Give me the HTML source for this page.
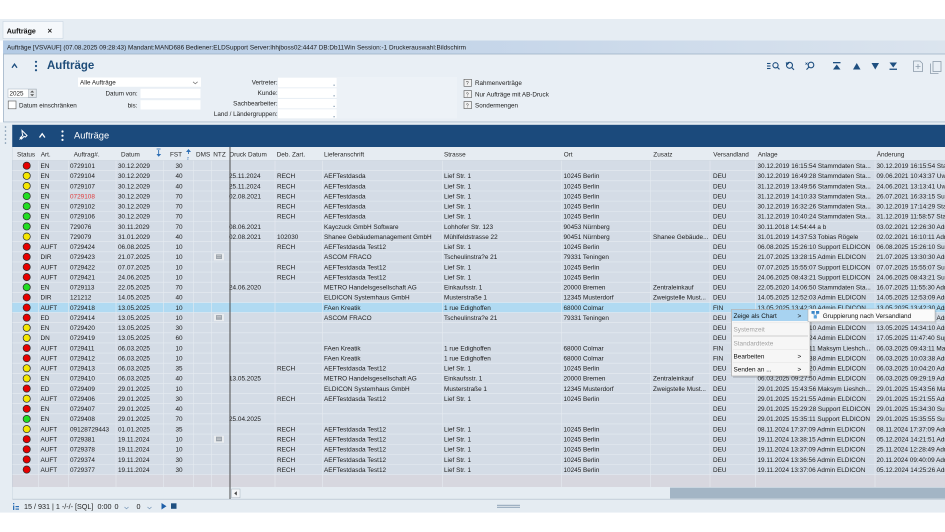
<!DOCTYPE html>
<html><head><meta charset="utf-8">
<style>
body{margin:0;background:#fff}
svg{display:block}
text{font-family:"Liberation Sans",Arial,sans-serif}
.rows text{font-size:6.4px;fill:#1b1b1b}
.hd text{font-size:6.4px;fill:#2a2a2a}
.f{font-size:6.3px;fill:#222}
.m{text-anchor:middle}
.e{text-anchor:end}
.cr{fill:#e60000;stroke:#2a2a2a;stroke-width:.7}
.cy{fill:#f4e600;stroke:#2a2a2a;stroke-width:.7}
.cg{fill:#22dd22;stroke:#2a2a2a;stroke-width:.7}
.ic{fill:#1e4f80}
.mn text{font-size:6.4px;fill:#111}
.sb{font-size:7.2px;fill:#222}
</style></head><body>
<svg width="945" height="532" viewBox="0 0 945 532" xmlns="http://www.w3.org/2000/svg">
<defs>
<linearGradient id="ib" x1="0" x2="1" y1="0" y2="0"><stop offset="0" stop-color="#b4cbe5"/><stop offset="0.6" stop-color="#c9d8ea"/><stop offset="1" stop-color="#dbe4ee"/></linearGradient>
<g id="ntz"><rect x="214" y="1.6" width="10" height="7" fill="#e9ecef"/><rect x="216" y="2.6" width="6" height="4.6" fill="#9aa2aa"/><line x1="216.8" y1="4" x2="221.2" y2="4" stroke="#e0e0e0" stroke-width=".5"/><line x1="216.8" y1="5.4" x2="221.2" y2="5.4" stroke="#e0e0e0" stroke-width=".5"/></g>
</defs>
<rect width="945" height="532" fill="#fff"/>
<!-- tab bar -->
<rect x="0" y="19" width="945" height="21.5" fill="#e6edf3"/>
<rect x="3" y="21.5" width="60" height="17" fill="#f5f8fb" stroke="#c9d5e1" stroke-width=".6"/>
<text x="6.7" y="33.3" style="font-size:7.1px;font-weight:bold;fill:#111">Aufträge</text>
<text x="47.5" y="33.5" style="font-size:8px;font-weight:bold;fill:#222">×</text>
<!-- info bar -->
<rect x="3" y="40.5" width="942" height="13.5" fill="url(#ib)"/>
<text x="7" y="49.6" class="f" textLength="459" lengthAdjust="spacingAndGlyphs" style="fill:#1a1a1a">Aufträge [VSVAUF] (07.08.2025 09:28:43) Mandant:MAND686 Bediener:ELDSupport Server:lhhjboss02:4447 DB:Db11Win Session:-1 Druckerauswahl:Bildschirm</text>
<!-- panel -->
<rect x="3.5" y="54" width="942" height="68" fill="#e9eff5" stroke="#9fb3c7" stroke-width=".8"/>
<rect x="0" y="122.4" width="945" height="2.4" fill="#e6edf3"/>
<polyline points="12,67.8 14.5,64.2 17,67.8" fill="none" stroke="#1e4f80" stroke-width="1.3"/>
<circle cx="36" cy="61.8" r="1.1" class="ic"/><circle cx="36" cy="66" r="1.1" class="ic"/><circle cx="36" cy="70.2" r="1.1" class="ic"/>
<text x="47" y="69.2" style="font-size:11.5px;font-weight:bold;fill:#1f4d7a">Aufträge</text>
<!-- toolbar icons -->
<g stroke="#1e4f80" fill="none" stroke-width="1.1">
<line x1="767" y1="63.5" x2="770.5" y2="63.5"/><line x1="767" y1="66" x2="770.5" y2="66"/><line x1="767" y1="68.5" x2="770.5" y2="68.5"/>
<circle cx="775.5" cy="65.3" r="2.6"/><line x1="777.4" y1="67.3" x2="779.5" y2="69.4"/>
<circle cx="789.5" cy="65.3" r="3"/><path d="M786 62.5 l1.5 1.8 l1.6 -1.8"/><line x1="791.8" y1="67.6" x2="794" y2="69.8"/>
<circle cx="811" cy="65" r="2.8"/><line x1="809" y1="67" x2="806.5" y2="69.6"/><path d="M805.5 62.6 l2 2 M807.5 62.6 l-2 2" stroke-width=".7"/>
</g>
<rect x="833" y="62" width="7.5" height="1.3" class="ic"/><polygon points="833,69.5 840.5,69.5 836.75,64.5" class="ic"/>
<polygon points="853,69.5 860.5,69.5 856.75,63" class="ic"/>
<polygon points="871.5,63 879,63 875.25,69.5" class="ic"/>
<polygon points="889.5,62.5 897,62.5 893.25,67.5" class="ic"/><rect x="889.5" y="68.6" width="7.5" height="1.3" class="ic"/>
<g fill="none" stroke="#8d9cab" stroke-width=".8">
<path d="M913.5 61 h6.5 l2.5 2.5 v8 h-9 z"/><path d="M918 64 v5 M915.5 66.5 h5"/>
<rect x="933" y="61.5" width="8" height="10"/><path d="M930.5 63.5 v10 h8"/>
</g>
<!-- form -->
<rect x="78" y="77.5" width="123" height="9.3" fill="#fff"/>
<text x="80" y="84.6" class="f">Alle Aufträge</text>
<polyline points="193,81.8 195.3,83.8 197.6,81.8" fill="none" stroke="#777" stroke-width=".7"/>
<rect x="8" y="89" width="28.5" height="8.6" fill="#fff" stroke="#a8b4c0" stroke-width=".5"/>
<text x="9.5" y="95.7" class="f">2025</text>
<rect x="28.3" y="89.3" width="7.8" height="8" fill="#e4e8ec" stroke="#a0a8b0" stroke-width=".4"/>
<polygon points="30.2,92.5 34.2,92.5 32.2,90.5" fill="#555"/><polygon points="30.2,94.3 34.2,94.3 32.2,96.3" fill="#555"/>
<text x="137.7" y="95.6" class="f e">Datum von:</text>
<rect x="140.5" y="88.8" width="60" height="9.3" fill="#fff"/>
<rect x="8.2" y="101" width="7.8" height="7.8" fill="#fff" stroke="#555" stroke-width=".6"/>
<text x="19" y="107.3" class="f">Datum einschränken</text>
<text x="137.4" y="107.3" class="f e">bis:</text>
<rect x="140.5" y="100.2" width="60" height="9.3" fill="#fff"/>
<rect x="337" y="77" width="120" height="41.5" fill="#edf2f7"/>
<text x="277.6" y="84.4" class="f e">Vertreter:</text>
<text x="277.6" y="95" class="f e">Kunde:</text>
<text x="277.6" y="105.6" class="f e">Sachbearbeiter:</text>
<text x="277.6" y="116.1" class="f e">Land / Ländergruppen:</text>
<g fill="#fff"><rect x="278" y="77.7" width="58.7" height="9.6"/><rect x="278" y="88.3" width="58.7" height="9.6"/><rect x="278" y="99" width="58.7" height="9.3"/><rect x="278" y="109.3" width="58.7" height="9"/></g>
<g fill="#7f98b0"><rect x="333.5" y="84.6" width="1.2" height="1.2"/><rect x="333.5" y="95.2" width="1.2" height="1.2"/><rect x="333.5" y="105.8" width="1.2" height="1.2"/><rect x="333.5" y="116.1" width="1.2" height="1.2"/></g>
<g fill="#f2f2f2" stroke="#555" stroke-width=".6">
<rect x="464" y="79.3" width="7.5" height="7"/><rect x="464" y="90.6" width="7.5" height="7"/><rect x="464" y="101.6" width="7.5" height="7"/></g>
<g style="font-size:5px;fill:#333"><text x="465.9" y="85">?</text><text x="465.9" y="96.3">?</text><text x="465.9" y="107.3">?</text></g>
<text x="475" y="85" class="f">Rahmenverträge</text>
<text x="475" y="96.3" class="f">Nur Aufträge mit AB-Druck</text>
<text x="475" y="107.3" class="f">Sondermengen</text>
<!-- left strip -->
<rect x="0" y="124.8" width="12.3" height="375" fill="#e6edf3"/>
<line x1="12.3" y1="124.8" x2="12.3" y2="499" stroke="#b4c3d2" stroke-width=".6"/>
<g fill="#7890a8"><circle cx="5.5" cy="127" r=".8"/><circle cx="5.5" cy="131" r=".8"/><circle cx="5.5" cy="135" r=".8"/><circle cx="5.5" cy="139" r=".8"/><circle cx="5.5" cy="143" r=".8"/></g>
<!-- dark bar -->
<rect x="12.3" y="124.8" width="932.7" height="22.2" fill="#1b4a7c"/>
<g stroke="#fff" fill="none" stroke-width="1">
<path d="M22 130.5 l5 5 l-1.5 1.5 l-1.5 -0.5 l-2.5 2.5 l-1.2 -1.2 l2.5 -2.5 l-0.5 -1.5 z"/>
<line x1="19.5" y1="139.5" x2="22" y2="137"/>
<polyline points="39.5,137.5 42.2,133.7 44.9,137.5" stroke-width="1.3"/>
</g>
<circle cx="62.5" cy="131.5" r="1.1" fill="#fff"/><circle cx="62.5" cy="135.7" r="1.1" fill="#fff"/><circle cx="62.5" cy="139.9" r="1.1" fill="#fff"/>
<text x="74" y="138.5" style="font-size:9.3px;fill:#fff">Aufträge</text>
<!-- header -->
<rect x="12.3" y="147" width="932.7" height="13.6" fill="#e6ecf2"/>
<line x1="12.3" y1="160.4" x2="945" y2="160.4" stroke="#c6cfd9" stroke-width=".6"/>
<g class="hd">
<text x="17" y="156.6">Status</text><text x="40.7" y="156.6">Art.</text><text x="73.7" y="156.6">Auftrag#.</text><text x="121" y="156.6">Datum</text>
<text x="170" y="156.6">FST</text><text x="196" y="156.6">DMS</text><text x="213.3" y="156.6">NTZ</text><text x="229.5" y="156.6">Druck Datum</text><text x="276.7" y="156.6">Deb. Zart.</text>
<text x="324" y="156.6">Lieferanschrift</text><text x="444" y="156.6">Strasse</text><text x="563.7" y="156.6">Ort</text><text x="653.3" y="156.6">Zusatz</text><text x="713.3" y="156.6">Versandland</text><text x="757.7" y="156.6">Anlage</text><text x="876.7" y="156.6">Änderung</text>
</g>
<g fill="#2d6fb5"><rect x="156.6" y="148.6" width="4" height=".8"/><rect x="158.2" y="150" width=".9" height="4.5"/><polygon points="156.5,154 161.2,154 158.65,156.8"/>
<polygon points="186,152 191,152 188.5,149"/><rect x="188" y="151.5" width=".9" height="2.5"/></g>
<text x="186.8" y="159.5" style="font-size:4px;fill:#2d6fb5">2</text>
<!-- rows background -->
<rect x="12.3" y="160.6" width="932.7" height="314" fill="#d4dce6"/>
<rect x="12.3" y="302.42" width="932.7" height="10.13" fill="#b0daf2"/>
<rect x="12.3" y="474.63" width="932.7" height="12.4" fill="#d7d7df"/>
<g stroke="#e6ebf1" stroke-width=".6">
<line x1="12.3" y1="170.73" x2="945" y2="170.73"/><line x1="12.3" y1="180.86" x2="945" y2="180.86"/><line x1="12.3" y1="190.99" x2="945" y2="190.99"/><line x1="12.3" y1="201.12" x2="945" y2="201.12"/><line x1="12.3" y1="211.25" x2="945" y2="211.25"/><line x1="12.3" y1="221.38" x2="945" y2="221.38"/><line x1="12.3" y1="231.51" x2="945" y2="231.51"/><line x1="12.3" y1="241.64" x2="945" y2="241.64"/><line x1="12.3" y1="251.77" x2="945" y2="251.77"/><line x1="12.3" y1="261.9" x2="945" y2="261.9"/><line x1="12.3" y1="272.03" x2="945" y2="272.03"/><line x1="12.3" y1="282.16" x2="945" y2="282.16"/><line x1="12.3" y1="292.29" x2="945" y2="292.29"/><line x1="12.3" y1="302.42" x2="945" y2="302.42"/><line x1="12.3" y1="312.55" x2="945" y2="312.55"/><line x1="12.3" y1="322.68" x2="945" y2="322.68"/><line x1="12.3" y1="332.81" x2="945" y2="332.81"/><line x1="12.3" y1="342.94" x2="945" y2="342.94"/><line x1="12.3" y1="353.07" x2="945" y2="353.07"/><line x1="12.3" y1="363.2" x2="945" y2="363.2"/><line x1="12.3" y1="373.33" x2="945" y2="373.33"/><line x1="12.3" y1="383.46" x2="945" y2="383.46"/><line x1="12.3" y1="393.59" x2="945" y2="393.59"/><line x1="12.3" y1="403.72" x2="945" y2="403.72"/><line x1="12.3" y1="413.85" x2="945" y2="413.85"/><line x1="12.3" y1="423.98" x2="945" y2="423.98"/><line x1="12.3" y1="434.11" x2="945" y2="434.11"/><line x1="12.3" y1="444.24" x2="945" y2="444.24"/><line x1="12.3" y1="454.37" x2="945" y2="454.37"/><line x1="12.3" y1="464.5" x2="945" y2="464.5"/><line x1="12.3" y1="474.63" x2="945" y2="474.63"/>
<line x1="38.3" y1="160.6" x2="38.3" y2="487"/><line x1="68.3" y1="160.6" x2="68.3" y2="487"/><line x1="116" y1="160.6" x2="116" y2="487"/><line x1="163.3" y1="160.6" x2="163.3" y2="487"/><line x1="193.3" y1="160.6" x2="193.3" y2="487"/><line x1="211.7" y1="160.6" x2="211.7" y2="487"/><line x1="275" y1="160.6" x2="275" y2="487"/><line x1="322.5" y1="160.6" x2="322.5" y2="487"/><line x1="442.3" y1="160.6" x2="442.3" y2="487"/><line x1="561.7" y1="160.6" x2="561.7" y2="487"/><line x1="650.7" y1="160.6" x2="650.7" y2="487"/><line x1="710" y1="160.6" x2="710" y2="487"/><line x1="755.7" y1="160.6" x2="755.7" y2="487"/><line x1="875" y1="160.6" x2="875" y2="487"/>
</g>
<!-- rows -->
<g class="rows">
<g transform="translate(0,160.6)"><circle class="cr" cx="26.7" cy="5.1" r="3.6"/><text x="40.5" y="7.4">EN</text><text x="70" y="7.4">0729101</text><text x="118" y="7.4">30.12.2029</text><text x="179" y="7.4" class="m">30</text><text x="757.5" y="7.4">30.12.2019 16:15:54 Stammdaten Sta...</text><text x="876.5" y="7.4">30.12.2019 16:15:54 Stammdaten</text></g>
<g transform="translate(0,170.73)"><circle class="cy" cx="26.7" cy="5.1" r="3.6"/><text x="40.5" y="7.4">EN</text><text x="70" y="7.4">0729104</text><text x="118" y="7.4">30.12.2029</text><text x="179" y="7.4" class="m">40</text><text x="229" y="7.4">25.11.2024</text><text x="277" y="7.4">RECH</text><text x="324" y="7.4">AEFTestdasda</text><text x="444" y="7.4">Lief Str. 1</text><text x="563.5" y="7.4">10245 Berlin</text><text x="713" y="7.4">DEU</text><text x="757.5" y="7.4">30.12.2019 16:49:28 Stammdaten Sta...</text><text x="876.5" y="7.4">09.06.2021 10:43:37 Uwe</text></g>
<g transform="translate(0,180.86)"><circle class="cy" cx="26.7" cy="5.1" r="3.6"/><text x="40.5" y="7.4">EN</text><text x="70" y="7.4">0729107</text><text x="118" y="7.4">30.12.2029</text><text x="179" y="7.4" class="m">40</text><text x="229" y="7.4">25.11.2024</text><text x="277" y="7.4">RECH</text><text x="324" y="7.4">AEFTestdasda</text><text x="444" y="7.4">Lief Str. 1</text><text x="563.5" y="7.4">10245 Berlin</text><text x="713" y="7.4">DEU</text><text x="757.5" y="7.4">31.12.2019 13:49:56 Stammdaten Sta...</text><text x="876.5" y="7.4">24.06.2021 13:13:41 Uwe</text></g>
<g transform="translate(0,190.99)"><circle class="cg" cx="26.7" cy="5.1" r="3.6"/><text x="40.5" y="7.4">EN</text><text x="70" y="7.4" style="fill:#e03a3a">0729108</text><text x="118" y="7.4">30.12.2029</text><text x="179" y="7.4" class="m">70</text><text x="229" y="7.4">02.08.2021</text><text x="277" y="7.4">RECH</text><text x="324" y="7.4">AEFTestdasda</text><text x="444" y="7.4">Lief Str. 1</text><text x="563.5" y="7.4">10245 Berlin</text><text x="713" y="7.4">DEU</text><text x="757.5" y="7.4">31.12.2019 14:10:33 Stammdaten Sta...</text><text x="876.5" y="7.4">26.07.2021 16:33:15 Support</text></g>
<g transform="translate(0,201.12)"><circle class="cg" cx="26.7" cy="5.1" r="3.6"/><text x="40.5" y="7.4">EN</text><text x="70" y="7.4">0729102</text><text x="118" y="7.4">30.12.2029</text><text x="179" y="7.4" class="m">70</text><text x="277" y="7.4">RECH</text><text x="324" y="7.4">AEFTestdasda</text><text x="444" y="7.4">Lief Str. 1</text><text x="563.5" y="7.4">10245 Berlin</text><text x="713" y="7.4">DEU</text><text x="757.5" y="7.4">30.12.2019 16:32:26 Stammdaten Sta...</text><text x="876.5" y="7.4">30.12.2019 17:14:29 Stammdaten</text></g>
<g transform="translate(0,211.25)"><circle class="cg" cx="26.7" cy="5.1" r="3.6"/><text x="40.5" y="7.4">EN</text><text x="70" y="7.4">0729106</text><text x="118" y="7.4">30.12.2029</text><text x="179" y="7.4" class="m">70</text><text x="277" y="7.4">RECH</text><text x="324" y="7.4">AEFTestdasda</text><text x="444" y="7.4">Lief Str. 1</text><text x="563.5" y="7.4">10245 Berlin</text><text x="713" y="7.4">DEU</text><text x="757.5" y="7.4">31.12.2019 10:40:24 Stammdaten Sta...</text><text x="876.5" y="7.4">31.12.2019 11:58:57 Stammdaten</text></g>
<g transform="translate(0,221.38)"><circle class="cg" cx="26.7" cy="5.1" r="3.6"/><text x="40.5" y="7.4">EN</text><text x="70" y="7.4">729076</text><text x="118" y="7.4">30.11.2029</text><text x="179" y="7.4" class="m">70</text><text x="229" y="7.4">08.06.2021</text><text x="324" y="7.4">Kayczuck GmbH Software</text><text x="444" y="7.4">Lohhofer Str. 123</text><text x="563.5" y="7.4">90453 Nürnberg</text><text x="713" y="7.4">DEU</text><text x="757.5" y="7.4">30.11.2018 14:54:44 a b</text><text x="876.5" y="7.4">03.02.2021 12:26:30 Admin</text></g>
<g transform="translate(0,231.51)"><circle class="cy" cx="26.7" cy="5.1" r="3.6"/><text x="40.5" y="7.4">EN</text><text x="70" y="7.4">729079</text><text x="118" y="7.4">31.01.2029</text><text x="179" y="7.4" class="m">40</text><text x="229" y="7.4">02.08.2021</text><text x="277" y="7.4">102030</text><text x="324" y="7.4">Shanee Gebäudemanagement GmbH</text><text x="444" y="7.4">Mühlfeldstrasse 22</text><text x="563.5" y="7.4">90451 Nürnberg</text><text x="653" y="7.4">Shanee Gebäude...</text><text x="713" y="7.4">DEU</text><text x="757.5" y="7.4">31.01.2019 14:37:53 Tobias Rögele</text><text x="876.5" y="7.4">02.02.2021 16:10:11 Admin</text></g>
<g transform="translate(0,241.64)"><circle class="cr" cx="26.7" cy="5.1" r="3.6"/><text x="40.5" y="7.4">AUFT</text><text x="70" y="7.4">0729424</text><text x="118" y="7.4">06.08.2025</text><text x="179" y="7.4" class="m">10</text><text x="277" y="7.4">RECH</text><text x="324" y="7.4">AEFTestdasda Test12</text><text x="444" y="7.4">Lief Str. 1</text><text x="563.5" y="7.4">10245 Berlin</text><text x="713" y="7.4">DEU</text><text x="757.5" y="7.4">06.08.2025 15:26:10 Support ELDICON</text><text x="876.5" y="7.4">06.08.2025 15:26:10 Support</text></g>
<g transform="translate(0,251.77)"><circle class="cr" cx="26.7" cy="5.1" r="3.6"/><text x="40.5" y="7.4">DIR</text><text x="70" y="7.4">0729423</text><text x="118" y="7.4">21.07.2025</text><text x="179" y="7.4" class="m">10</text><use href="#ntz"/><text x="324" y="7.4">ASCOM FRACO</text><text x="444" y="7.4">Tscheulinstra?e 21</text><text x="563.5" y="7.4">79331 Teningen</text><text x="713" y="7.4">DEU</text><text x="757.5" y="7.4">21.07.2025 13:28:15 Admin ELDICON</text><text x="876.5" y="7.4">21.07.2025 13:30:30 Admin</text></g>
<g transform="translate(0,261.9)"><circle class="cr" cx="26.7" cy="5.1" r="3.6"/><text x="40.5" y="7.4">AUFT</text><text x="70" y="7.4">0729422</text><text x="118" y="7.4">07.07.2025</text><text x="179" y="7.4" class="m">10</text><text x="277" y="7.4">RECH</text><text x="324" y="7.4">AEFTestdasda Test12</text><text x="444" y="7.4">Lief Str. 1</text><text x="563.5" y="7.4">10245 Berlin</text><text x="713" y="7.4">DEU</text><text x="757.5" y="7.4">07.07.2025 15:55:07 Support ELDICON</text><text x="876.5" y="7.4">07.07.2025 15:55:07 Support</text></g>
<g transform="translate(0,272.03)"><circle class="cr" cx="26.7" cy="5.1" r="3.6"/><text x="40.5" y="7.4">AUFT</text><text x="70" y="7.4">0729421</text><text x="118" y="7.4">24.06.2025</text><text x="179" y="7.4" class="m">10</text><text x="277" y="7.4">RECH</text><text x="324" y="7.4">AEFTestdasda Test12</text><text x="444" y="7.4">Lief Str. 1</text><text x="563.5" y="7.4">10245 Berlin</text><text x="713" y="7.4">DEU</text><text x="757.5" y="7.4">24.06.2025 08:43:21 Support ELDICON</text><text x="876.5" y="7.4">24.06.2025 08:43:21 Support</text></g>
<g transform="translate(0,282.16)"><circle class="cg" cx="26.7" cy="5.1" r="3.6"/><text x="40.5" y="7.4">EN</text><text x="70" y="7.4">0729113</text><text x="118" y="7.4">22.05.2025</text><text x="179" y="7.4" class="m">70</text><text x="229" y="7.4">24.06.2020</text><text x="324" y="7.4">METRO Handelsgesellschaft AG</text><text x="444" y="7.4">Einkaufsstr. 1</text><text x="563.5" y="7.4">20000 Bremen</text><text x="653" y="7.4">Zentraleinkauf</text><text x="713" y="7.4">DEU</text><text x="757.5" y="7.4">22.05.2020 14:06:50 Stammdaten Sta...</text><text x="876.5" y="7.4">16.07.2025 11:55:30 Admin</text></g>
<g transform="translate(0,292.29)"><circle class="cr" cx="26.7" cy="5.1" r="3.6"/><text x="40.5" y="7.4">DIR</text><text x="70" y="7.4">121212</text><text x="118" y="7.4">14.05.2025</text><text x="179" y="7.4" class="m">40</text><text x="324" y="7.4">ELDICON Systemhaus GmbH</text><text x="444" y="7.4">Musterstraße 1</text><text x="563.5" y="7.4">12345 Musterdorf</text><text x="653" y="7.4">Zweigstelle Must...</text><text x="713" y="7.4">DEU</text><text x="757.5" y="7.4">14.05.2025 12:52:03 Admin ELDICON</text><text x="876.5" y="7.4">14.05.2025 12:53:09 Admin</text></g>
<g transform="translate(0,302.42)"><circle class="cr" cx="26.7" cy="5.1" r="3.6"/><text x="40.5" y="7.4">AUFT</text><text x="70" y="7.4">0729418</text><text x="118" y="7.4">13.05.2025</text><text x="179" y="7.4" class="m">10</text><text x="324" y="7.4">FAen Kreatik</text><text x="444" y="7.4">1 rue Edighoffen</text><text x="563.5" y="7.4">68000 Colmar</text><text x="713" y="7.4">FIN</text><text x="757.5" y="7.4">13.05.2025 13:42:30 Admin ELDICON</text><text x="876.5" y="7.4">13.05.2025 13:42:30 Admin</text></g>
<g transform="translate(0,312.55)"><circle class="cr" cx="26.7" cy="5.1" r="3.6"/><text x="40.5" y="7.4">ED</text><text x="70" y="7.4">0729414</text><text x="118" y="7.4">13.05.2025</text><text x="179" y="7.4" class="m">10</text><use href="#ntz"/><text x="324" y="7.4">ASCOM FRACO</text><text x="444" y="7.4">Tscheulinstra?e 21</text><text x="563.5" y="7.4">79331 Teningen</text><text x="713" y="7.4">DEU</text><text x="757.5" y="7.4">13.05.2025 13:38:51 Admin ELDICON</text><text x="876.5" y="7.4">13.05.2025 13:38:51 Admin</text></g>
<g transform="translate(0,322.68)"><circle class="cy" cx="26.7" cy="5.1" r="3.6"/><text x="40.5" y="7.4">EN</text><text x="70" y="7.4">0729420</text><text x="118" y="7.4">13.05.2025</text><text x="179" y="7.4" class="m">30</text><text x="713" y="7.4">DEU</text><text x="757.5" y="7.4">13.05.2025 14:34:10 Admin ELDICON</text><text x="876.5" y="7.4">13.05.2025 14:34:10 Admin</text></g>
<g transform="translate(0,332.81)"><circle class="cy" cx="26.7" cy="5.1" r="3.6"/><text x="40.5" y="7.4">DN</text><text x="70" y="7.4">0729419</text><text x="118" y="7.4">13.05.2025</text><text x="179" y="7.4" class="m">60</text><text x="713" y="7.4">DEU</text><text x="757.5" y="7.4">13.05.2025 14:30:24 Admin ELDICON</text><text x="876.5" y="7.4">17.05.2025 11:47:40 Support</text></g>
<g transform="translate(0,342.94)"><circle class="cr" cx="26.7" cy="5.1" r="3.6"/><text x="40.5" y="7.4">AUFT</text><text x="70" y="7.4">0729411</text><text x="118" y="7.4">06.03.2025</text><text x="179" y="7.4" class="m">10</text><text x="324" y="7.4">FAen Kreatik</text><text x="444" y="7.4">1 rue Edighoffen</text><text x="563.5" y="7.4">68000 Colmar</text><text x="713" y="7.4">FIN</text><text x="757.5" y="7.4">06.03.2025 09:43:11 Maksym Lieshch...</text><text x="876.5" y="7.4">06.03.2025 09:43:11 Maksym</text></g>
<g transform="translate(0,353.07)"><circle class="cr" cx="26.7" cy="5.1" r="3.6"/><text x="40.5" y="7.4">AUFT</text><text x="70" y="7.4">0729412</text><text x="118" y="7.4">06.03.2025</text><text x="179" y="7.4" class="m">10</text><text x="324" y="7.4">FAen Kreatik</text><text x="444" y="7.4">1 rue Edighoffen</text><text x="563.5" y="7.4">68000 Colmar</text><text x="713" y="7.4">FIN</text><text x="757.5" y="7.4">06.03.2025 10:03:38 Admin ELDICON</text><text x="876.5" y="7.4">06.03.2025 10:03:38 Admin</text></g>
<g transform="translate(0,363.2)"><circle class="cy" cx="26.7" cy="5.1" r="3.6"/><text x="40.5" y="7.4">AUFT</text><text x="70" y="7.4">0729413</text><text x="118" y="7.4">06.03.2025</text><text x="179" y="7.4" class="m">35</text><text x="277" y="7.4">RECH</text><text x="324" y="7.4">AEFTestdasda Test12</text><text x="444" y="7.4">Lief Str. 1</text><text x="563.5" y="7.4">10245 Berlin</text><text x="713" y="7.4">DEU</text><text x="757.5" y="7.4">06.03.2025 10:04:20 Admin ELDICON</text><text x="876.5" y="7.4">06.03.2025 10:04:20 Admin</text></g>
<g transform="translate(0,373.33)"><circle class="cy" cx="26.7" cy="5.1" r="3.6"/><text x="40.5" y="7.4">EN</text><text x="70" y="7.4">0729410</text><text x="118" y="7.4">06.03.2025</text><text x="179" y="7.4" class="m">40</text><text x="229" y="7.4">13.05.2025</text><text x="324" y="7.4">METRO Handelsgesellschaft AG</text><text x="444" y="7.4">Einkaufsstr. 1</text><text x="563.5" y="7.4">20000 Bremen</text><text x="653" y="7.4">Zentraleinkauf</text><text x="713" y="7.4">DEU</text><text x="757.5" y="7.4">06.03.2025 09:27:50 Admin ELDICON</text><text x="876.5" y="7.4">06.03.2025 09:29:19 Admin</text></g>
<g transform="translate(0,383.46)"><circle class="cr" cx="26.7" cy="5.1" r="3.6"/><text x="40.5" y="7.4">ED</text><text x="70" y="7.4">0729409</text><text x="118" y="7.4">29.01.2025</text><text x="179" y="7.4" class="m">10</text><text x="324" y="7.4">ELDICON Systemhaus GmbH</text><text x="444" y="7.4">Musterstraße 1</text><text x="563.5" y="7.4">12345 Musterdorf</text><text x="653" y="7.4">Zweigstelle Must...</text><text x="713" y="7.4">DEU</text><text x="757.5" y="7.4">29.01.2025 15:43:56 Maksym Lieshch...</text><text x="876.5" y="7.4">29.01.2025 15:43:56 Maksym</text></g>
<g transform="translate(0,393.59)"><circle class="cy" cx="26.7" cy="5.1" r="3.6"/><text x="40.5" y="7.4">AUFT</text><text x="70" y="7.4">0729406</text><text x="118" y="7.4">29.01.2025</text><text x="179" y="7.4" class="m">30</text><text x="277" y="7.4">RECH</text><text x="324" y="7.4">AEFTestdasda Test12</text><text x="444" y="7.4">Lief Str. 1</text><text x="563.5" y="7.4">10245 Berlin</text><text x="713" y="7.4">DEU</text><text x="757.5" y="7.4">29.01.2025 15:21:55 Admin ELDICON</text><text x="876.5" y="7.4">29.01.2025 15:21:55 Admin</text></g>
<g transform="translate(0,403.72)"><circle class="cr" cx="26.7" cy="5.1" r="3.6"/><text x="40.5" y="7.4">EN</text><text x="70" y="7.4">0729407</text><text x="118" y="7.4">29.01.2025</text><text x="179" y="7.4" class="m">40</text><text x="713" y="7.4">DEU</text><text x="757.5" y="7.4">29.01.2025 15:29:28 Support ELDICON</text><text x="876.5" y="7.4">29.01.2025 15:34:30 Support</text></g>
<g transform="translate(0,413.85)"><circle class="cg" cx="26.7" cy="5.1" r="3.6"/><text x="40.5" y="7.4">EN</text><text x="70" y="7.4">0729408</text><text x="118" y="7.4">29.01.2025</text><text x="179" y="7.4" class="m">70</text><text x="229" y="7.4">25.04.2025</text><text x="713" y="7.4">DEU</text><text x="757.5" y="7.4">29.01.2025 15:35:11 Support ELDICON</text><text x="876.5" y="7.4">29.01.2025 15:35:55 Support</text></g>
<g transform="translate(0,423.98)"><circle class="cy" cx="26.7" cy="5.1" r="3.6"/><text x="40.5" y="7.4">AUFT</text><text x="70" y="7.4">09128729443</text><text x="118" y="7.4">01.01.2025</text><text x="179" y="7.4" class="m">35</text><text x="277" y="7.4">RECH</text><text x="324" y="7.4">AEFTestdasda Test12</text><text x="444" y="7.4">Lief Str. 1</text><text x="563.5" y="7.4">10245 Berlin</text><text x="713" y="7.4">DEU</text><text x="757.5" y="7.4">08.11.2024 17:37:09 Admin ELDICON</text><text x="876.5" y="7.4">08.11.2024 17:37:09 Admin</text></g>
<g transform="translate(0,434.11)"><circle class="cr" cx="26.7" cy="5.1" r="3.6"/><text x="40.5" y="7.4">AUFT</text><text x="70" y="7.4">0729381</text><text x="118" y="7.4">19.11.2024</text><text x="179" y="7.4" class="m">10</text><use href="#ntz"/><text x="277" y="7.4">RECH</text><text x="324" y="7.4">AEFTestdasda Test12</text><text x="444" y="7.4">Lief Str. 1</text><text x="563.5" y="7.4">10245 Berlin</text><text x="713" y="7.4">DEU</text><text x="757.5" y="7.4">19.11.2024 13:38:15 Admin ELDICON</text><text x="876.5" y="7.4">05.12.2024 14:21:51 Admin</text></g>
<g transform="translate(0,444.24)"><circle class="cr" cx="26.7" cy="5.1" r="3.6"/><text x="40.5" y="7.4">AUFT</text><text x="70" y="7.4">0729378</text><text x="118" y="7.4">19.11.2024</text><text x="179" y="7.4" class="m">10</text><text x="277" y="7.4">RECH</text><text x="324" y="7.4">AEFTestdasda Test12</text><text x="444" y="7.4">Lief Str. 1</text><text x="563.5" y="7.4">10245 Berlin</text><text x="713" y="7.4">DEU</text><text x="757.5" y="7.4">19.11.2024 13:37:09 Admin ELDICON</text><text x="876.5" y="7.4">25.11.2024 12:28:49 Admin</text></g>
<g transform="translate(0,454.37)"><circle class="cr" cx="26.7" cy="5.1" r="3.6"/><text x="40.5" y="7.4">AUFT</text><text x="70" y="7.4">0729374</text><text x="118" y="7.4">19.11.2024</text><text x="179" y="7.4" class="m">30</text><text x="277" y="7.4">RECH</text><text x="324" y="7.4">AEFTestdasda Test12</text><text x="444" y="7.4">Lief Str. 1</text><text x="563.5" y="7.4">10245 Berlin</text><text x="713" y="7.4">DEU</text><text x="757.5" y="7.4">19.11.2024 13:36:56 Admin ELDICON</text><text x="876.5" y="7.4">20.11.2024 09:40:09 Admin</text></g>
<g transform="translate(0,464.5)"><circle class="cr" cx="26.7" cy="5.1" r="3.6"/><text x="40.5" y="7.4">AUFT</text><text x="70" y="7.4">0729377</text><text x="118" y="7.4">19.11.2024</text><text x="179" y="7.4" class="m">30</text><text x="277" y="7.4">RECH</text><text x="324" y="7.4">AEFTestdasda Test12</text><text x="444" y="7.4">Lief Str. 1</text><text x="563.5" y="7.4">10245 Berlin</text><text x="713" y="7.4">DEU</text><text x="757.5" y="7.4">19.11.2024 13:37:06 Admin ELDICON</text><text x="876.5" y="7.4">05.12.2024 14:25:26 Admin</text></g>
</g>
<!-- scrollbar -->
<rect x="12.3" y="487" width="932.7" height="12" fill="#e5ecf2"/>
<rect x="670" y="487.6" width="275" height="11" fill="#a3b5c5"/>
<line x1="12.3" y1="499.2" x2="945" y2="499.2" stroke="#a9b8c7" stroke-width=".7"/>
<rect x="231.5" y="489" width="8.5" height="8.8" fill="#f3f5f7" stroke="#a6b2be" stroke-width=".5"/>
<polygon points="236.8,491.3 236.8,495.5 234.2,493.4" fill="#444"/>
<!-- frozen column line -->
<line x1="230" y1="147" x2="230" y2="499" stroke="#4c4c4c" stroke-width="1"/>
<!-- status bar -->
<rect x="0" y="499.6" width="945" height="13" fill="#e5ecf2"/>
<g fill="#2d6fb5"><rect x="13" y="503" width="1.3" height="1.3"/><rect x="13" y="505.5" width="1.3" height="4.5"/><rect x="15.5" y="506" width="3.5" height="1.2"/><rect x="15.5" y="508.5" width="3.5" height="1.2"/></g>
<text x="24" y="509" class="sb">15 / 931 | 1 -/-/-</text>
<text x="75" y="509" class="sb">[SQL]</text>
<text x="97.5" y="509" class="sb">0:00</text>
<text x="114.5" y="509" class="sb">0</text>
<text x="136.5" y="509" class="sb">0</text>
<polyline points="124.5,507 126.5,508.8 128.5,507" fill="none" stroke="#6a8cb0" stroke-width=".6"/>
<polyline points="147.5,507 149.5,508.8 151.5,507" fill="none" stroke="#6a8cb0" stroke-width=".6"/>
<polygon points="161.5,503 161.5,509.5 166.5,506.25" fill="#1e5fa8"/>
<rect x="171" y="503.3" width="5.5" height="5.5" fill="#1e4f80"/>
<rect x="497" y="504.8" width="23" height="1" fill="#8ea2b7"/><rect x="497" y="506.8" width="23" height="1" fill="#8ea2b7"/>
<!-- context menu -->
<rect x="733" y="311" width="79" height="67" fill="#000" opacity=".12"/>
<rect x="731.5" y="309.5" width="78.5" height="66.5" fill="#f6f6f6" stroke="#a0a0a0" stroke-width=".6"/>
<rect x="732" y="310" width="76" height="11" fill="#a8d3f1"/>
<line x1="733" y1="336" x2="808" y2="336" stroke="#a8a8a8" stroke-width=".6"/>
<g stroke="#e2e2e2" stroke-width=".5"><line x1="733" y1="322.8" x2="808" y2="322.8"/><line x1="733" y1="349.3" x2="808" y2="349.3"/><line x1="733" y1="362.7" x2="808" y2="362.7"/></g>
<g class="mn">
<text x="733.5" y="318.2">Zeige als Chart</text><text x="797.5" y="318.2">&gt;</text>
<text x="733.5" y="331.6" style="fill:#a2a2a2">Systemzeit</text>
<text x="733.5" y="345.5" style="fill:#a2a2a2">Standardtexte</text>
<text x="733.5" y="358.6">Bearbeiten</text><text x="797.5" y="358.6">&gt;</text>
<text x="733.5" y="371.6">Senden an ...</text><text x="797.5" y="371.6">&gt;</text>
</g>
<rect x="809.5" y="310.5" width="127" height="13" fill="#000" opacity=".1"/>
<rect x="808" y="309" width="127" height="12.8" fill="#fafafa" stroke="#a8a8a8" stroke-width=".5"/>
<g fill="#3a86c8"><rect x="811.5" y="311" width="3.2" height="2.8"/><rect x="816" y="311" width="3.2" height="2.8"/><rect x="813.7" y="315.3" width="3.2" height="3.2" fill="#5aa2dc"/></g>
<line x1="813.1" y1="313.8" x2="815.3" y2="315.3" stroke="#3a86c8" stroke-width=".5"/>
<line x1="817.6" y1="313.8" x2="815.3" y2="315.3" stroke="#3a86c8" stroke-width=".5"/>
<text x="822.7" y="317.8" style="font-size:6.4px;fill:#111">Gruppierung nach Versandland</text>
</svg>
</body></html>
